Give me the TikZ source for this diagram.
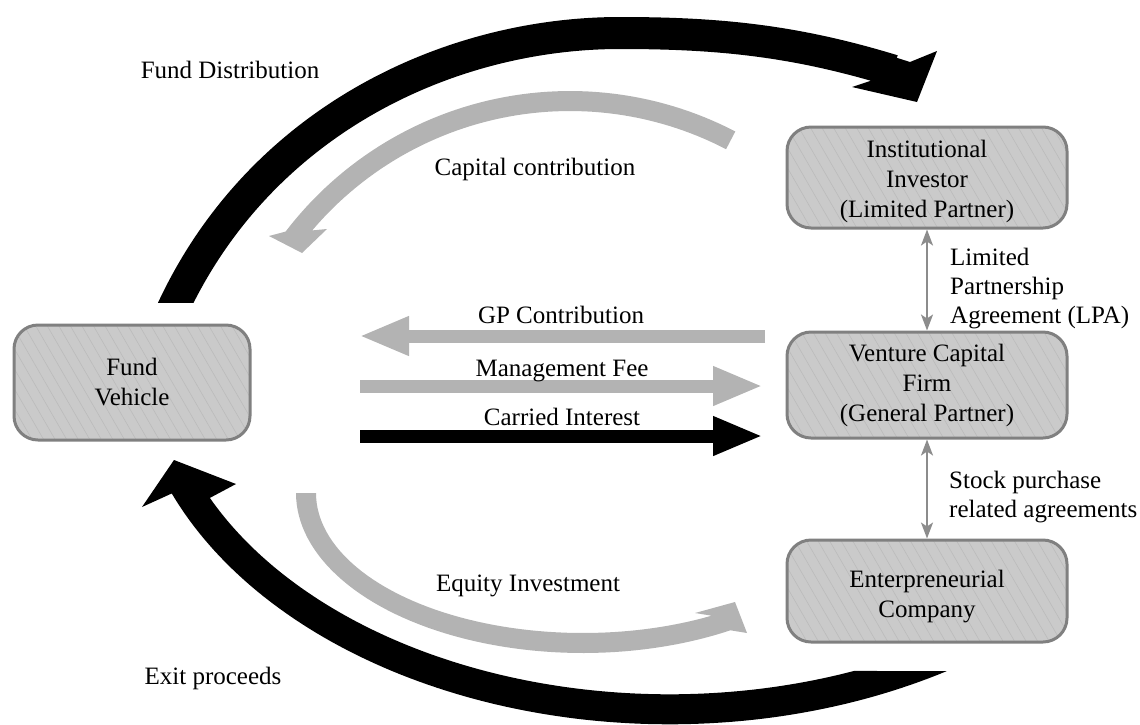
\documentclass[tikz,border=0pt]{standalone}
\usepackage{fontspec}
\setmainfont{Liberation Serif}
\usetikzlibrary{arrows.meta,patterns.meta}
\definecolor{boxfill}{HTML}{CACACA}
\definecolor{boxline}{HTML}{808080}
\definecolor{stripe}{HTML}{BBBBBB}
\definecolor{flowgray}{HTML}{B3B3B3}
\definecolor{linkgray}{HTML}{8C8C8C}
\newcommand\diagfont{\fontsize{25pt}{30pt}\selectfont}
\newcommand\notefont{\fontsize{25pt}{29pt}\selectfont}
% extra height on a first line pushes a centred block down
\newcommand\dropfirst[1]{\rule{0pt}{#1}}

\begin{document}
\begin{tikzpicture}[x=1pt,y=-1pt,
  party/.style={draw=boxline, line width=3pt, rounded corners=24pt, align=center,
    inner sep=0pt, font=\diagfont,
    preaction={fill=boxfill},
    preaction={pattern={Lines[angle=-60,distance=10pt,line width=0.6pt]}, pattern color=stripe}},
  flowlabel/.style={font=\diagfont, anchor=base, inner sep=0pt},
  notelabel/.style={font=\notefont, align=left, anchor=north west, inner sep=0pt},
  flat/.style={line width=13pt, -{Triangle[length=50pt,width=36pt]}},
  agreement/.style={draw=linkgray, line width=2pt,
    {Stealth[length=16pt,width=12pt,inset=4pt]}-{Stealth[length=16pt,width=12pt,inset=4pt]}}]

\useasboundingbox (0,0) rectangle (1140,724);

% ---- curved flows ----
% Fund distribution: fund vehicle -> institutional investor
\coordinate (fdStart) at (171.8,311);
\coordinate (fdC1)    at (260,120);
\coordinate (fdC2)    at (450,33);
\coordinate (fdTop)   at (620,33);
\coordinate (fdC3)    at (720,33);
\coordinate (fdC4)    at (795.4,40.8);
\coordinate (fdEnd)   at (893,70.6);
\begin{scope}
  \clip (0,0) rectangle (1140,302);
  \draw[black, line width=32pt]
    (fdStart) .. controls (fdC1) and (fdC2) .. (fdTop)
              .. controls (fdC3) and (fdC4) .. (fdEnd);
\end{scope}
\coordinate (fdEdgeA) at (888,55);
\coordinate (fdEdgeB) at (910,62);
\coordinate (fdOut)   at (937,51);
\coordinate (fdTip)   at (917,102);
\coordinate (fdIn)    at (852,87);
\coordinate (fdEdgeC) at (870,81);
\fill[black] (fdEdgeA) -- (fdEdgeB) -- (fdOut) -- (fdTip) -- (fdIn) -- (fdEdgeC) -- cycle;

% Capital contribution: institutional investor -> fund vehicle (outer edge, head, inner edge)
\coordinate (ccOut) at (269,236);
\coordinate (ccTip) at (302,253);
\coordinate (ccIn)  at (327,229);
\fill[flowgray]
  plot[domain=-62.5:-142.6, samples=60] ({570+358*cos(\x)},{449+358*sin(\x)})
  -- (ccOut) -- (ccTip) -- (ccIn)
  -- plot[domain=-139.7:-62.5, samples=60] ({570+338*cos(\x)},{449+338*sin(\x)})
  -- cycle;

% Equity investment: fund vehicle -> enterpreneurial company
\coordinate (eqOut) at (747,633);
\coordinate (eqTip) at (735,602);
\coordinate (eqIn)  at (695,613);
\fill[flowgray]
  plot[domain=180:59.1, samples=60] ({583+287*cos(\x)},{493+160*sin(\x)})
  -- (eqOut) -- (eqTip) -- (eqIn)
  -- plot[domain=61.2:180, samples=60] ({583+267*cos(\x)},{493+140*sin(\x)})
  -- cycle;

% Exit proceeds: enterpreneurial company -> fund vehicle
\coordinate (exOut) at (142,507);
\coordinate (exTip) at (174,460);
\coordinate (exIn)  at (236,484);
\fill[black]
  plot[domain=59:157.7, samples=90] ({669.5+538*cos(\x)},{352.3+372*sin(\x)})
  -- (exOut) -- (exTip) -- (exIn)
  -- plot[domain=154.8:68.7, samples=90] ({669.5+508*cos(\x)},{352.3+342*sin(\x)})
  -- cycle;

% ---- parties ----
\node[party, minimum width=236pt, minimum height=115pt] (fv) at (132,382.5) {Fund\\Vehicle};
\node[party, minimum width=280pt, minimum height=101pt] (ii) at (927,177.5) {\dropfirst{25pt}Institutional\\Investor\\(Limited Partner)};
\node[party, minimum width=280pt, minimum height=106pt] (vc) at (927,385) {Venture Capital\\Firm\\(General Partner)};
\node[party, minimum width=280pt, minimum height=102pt] (ec) at (927,591) {\dropfirst{29pt}Enterpreneurial\\Company};

% ---- agreements ----
\draw[agreement] (ii.south) -- (vc.north);
\draw[agreement] (vc.south) -- (ec.north);
\node[notelabel] (lpa) at (950,248) {Limited\\Partnership\\Agreement (LPA)};
\node[notelabel] (spa) at (949,471) {Stock purchase\\related agreements};

% ---- straight flows between fund vehicle and general partner ----
\coordinate (gpFrom) at (765,336);
\coordinate (gpTo)   at (359,336);
\coordinate (mfFrom) at (360,386);
\coordinate (mfTo)   at (763,386);
\coordinate (ciFrom) at (360,436);
\coordinate (ciTo)   at (763,436);
\draw[flat, flowgray] (gpFrom) -- (gpTo);
\draw[flat, flowgray] (mfFrom) -- (mfTo);
\draw[flat, black] (ciFrom) -- (ciTo);

% ---- flow labels ----
\node[flowlabel] (lfd) at (230,78) {Fund Distribution};
\node[flowlabel] (lcc) at (535,175) {Capital contribution};
\node[flowlabel] (lgp) at (561,323) {GP Contribution};
\node[flowlabel] (lmf) at (562,376) {Management Fee};
\node[flowlabel] (lci) at (562,425) {Carried Interest};
\node[flowlabel] (leq) at (528,591) {Equity Investment};
\node[flowlabel] (lex) at (213,684) {Exit proceeds};

\end{tikzpicture}
\end{document}
